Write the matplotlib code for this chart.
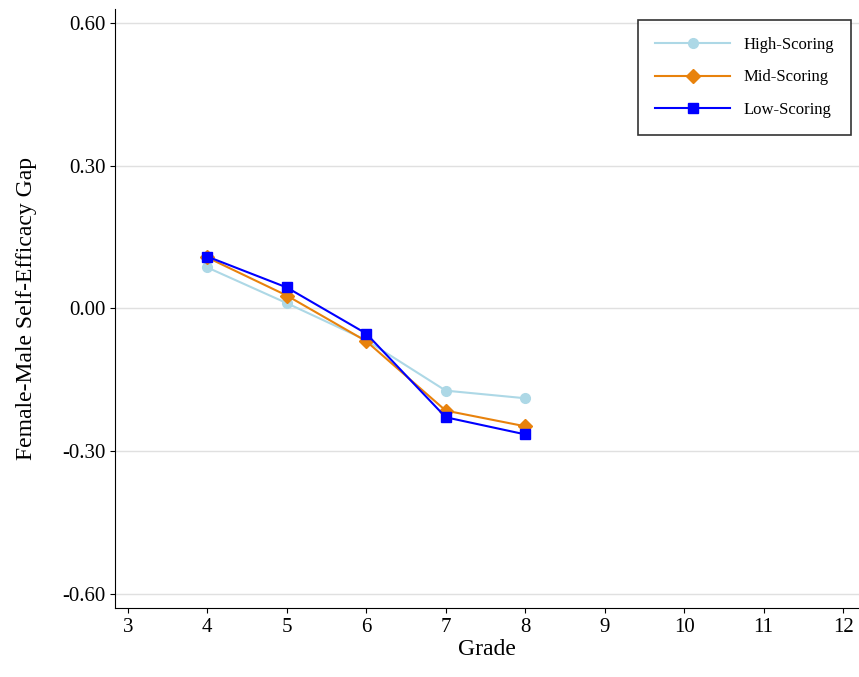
import matplotlib.pyplot as plt

plt.rcParams['font.family'] = ['Liberation Serif', 'DejaVu Serif']

grades = [4, 5, 6, 7, 8]
high = [0.086, 0.011, -0.067, -0.173, -0.189]
mid = [0.107, 0.027, -0.069, -0.215, -0.248]
low = [0.109, 0.044, -0.053, -0.229, -0.265]

fig = plt.figure(figsize=(8.59, 6.77), dpi=100)
ax = fig.add_axes([0.134, 0.102, 0.866, 0.885])

ax.plot(grades, high, color='#add8e6', marker='o', markersize=7, lw=1.5, label='High-Scoring')
ax.plot(grades, mid, color='#e8820c', marker='D', markersize=7, lw=1.5, label='Mid-Scoring')
ax.plot(grades, low, color='#0000ff', marker='s', markersize=7, lw=1.5, label='Low-Scoring')

ax.set_xlim(2.84, 12.2)
ax.set_ylim(-0.63, 0.63)
ax.set_xticks(range(3, 13))
ax.set_yticks([-0.6, -0.3, 0.0, 0.3, 0.6])
ax.set_yticklabels(['-0.60', '-0.30', '0.00', '0.30', '0.60'])
ax.grid(axis='y', color='#e0e0e0', lw=1)
ax.set_axisbelow(True)
for s in ['top', 'right']:
    ax.spines[s].set_visible(False)
ax.tick_params(labelsize=15)
ax.set_xlabel('Grade', fontsize=17, labelpad=2)
ax.set_ylabel('Female-Male Self-Efficacy Gap', fontsize=17, labelpad=18)

leg = ax.legend(loc='upper right', fontsize=12, frameon=True, fancybox=False,
                edgecolor='black', borderpad=1.0, labelspacing=1.0, handlelength=4.5,
                bbox_to_anchor=(1.0, 0.995))
leg.get_frame().set_linewidth(1.2)

fig.savefig('out.png')
